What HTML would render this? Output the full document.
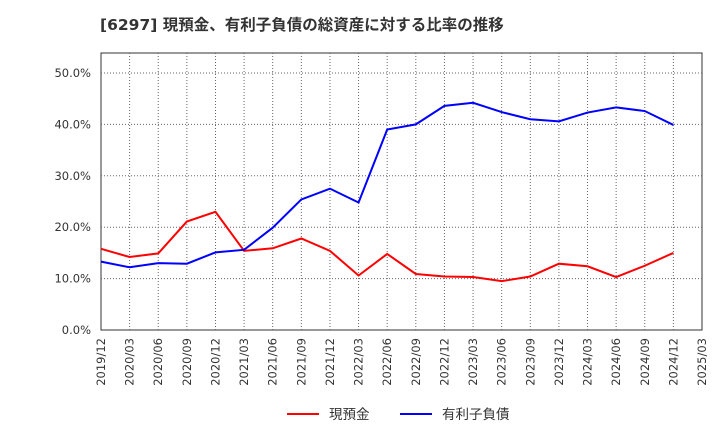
<!DOCTYPE html>
<html><head><meta charset="utf-8"><style>
body{margin:0;background:#fff;font-family:"DejaVu Sans","Noto Sans CJK JP",sans-serif;}
svg text{font-family:"DejaVu Sans","Noto Sans CJK JP",sans-serif;}
</style></head><body>
<svg id="c" width="720" height="440" xmlns="http://www.w3.org/2000/svg">
<text x="100" y="30" font-size="15.5" font-weight="bold" fill="#333">[6297]  現預金、有利子負債の総資産に対する比率の推移</text>
<rect x="101" y="53" width="601" height="277" fill="none" stroke="#333"/>
<g id="grid"></g><g id="yt"></g><g id="xt"></g><g id="lines"></g>
<g>
<line x1="287" y1="414" x2="319" y2="414" stroke="#f00" stroke-width="2"/>
<text x="329" y="419" font-size="13.5" fill="#333">現預金</text>
<line x1="400" y1="414" x2="432" y2="414" stroke="#00f" stroke-width="2"/>
<text x="442" y="419" font-size="13.5" fill="#333">有利子負債</text>
</g>
</svg>
<script>
const categories=["2019/12","2020/03","2020/06","2020/09","2020/12","2021/03","2021/06","2021/09","2021/12","2022/03","2022/06","2022/09","2022/12","2023/03","2023/06","2023/09","2023/12","2024/03","2024/06","2024/09","2024/12","2025/03"];
const cashValues=[15.8,14.2,14.9,21.1,23.0,15.4,15.9,17.8,15.4,10.6,14.8,10.9,10.4,10.3,9.5,10.4,12.9,12.4,10.3,12.5,15.0];
const debtValues=[13.3,12.2,13.0,12.9,15.1,15.6,19.9,25.4,27.5,24.8,39.0,40.0,43.6,44.2,42.4,41.0,40.6,42.3,43.3,42.6,39.9];
const yTicks=[0,10,20,30,40,50];
const NS="http://www.w3.org/2000/svg";
const X0=101,X1=702,Y0=330,Y50=73;
const xs=i=>X0+i*(X1-X0)/(categories.length-1);
const ys=v=>Y0-v*(Y0-Y50)/50;
function mk(t,a,p){const e=document.createElementNS(NS,t);for(const k in a)e.setAttribute(k,a[k]);document.getElementById(p).appendChild(e);return e;}
yTicks.forEach(v=>{
 if(v>0){const g=mk("line",{x1:X0,x2:X1,y1:ys(v),y2:ys(v),stroke:"#666","stroke-dasharray":"1,2"},"grid");
 
 }
 const t=mk("text",{x:91,y:ys(v)+4,"text-anchor":"end","font-size":"11.5",fill:"#333"},"yt");
 t.textContent=v.toFixed(1)+"%";
 
 
});
categories.forEach((c,i)=>{
 if(i>0&&i<categories.length-1){const g=mk("line",{x1:xs(i),x2:xs(i),y1:53,y2:Y0,stroke:"#666","stroke-dasharray":"1,2"},"grid");
 
 }
 const t=mk("text",{transform:`translate(${xs(i)+4},338) rotate(-90)`,"text-anchor":"end","font-size":"11.5",fill:"#333"},"xt");
 t.textContent=c;
 
 
});
function line(vals,col,name){
 const p=mk("polyline",{points:vals.map((v,i)=>xs(i)+","+ys(v)).join(" "),fill:"none",stroke:col,"stroke-width":"2"},"lines");
 
 
}
line(cashValues,"#f00","cash-line");
line(debtValues,"#00f","debt-line");
</script>
</body></html>
